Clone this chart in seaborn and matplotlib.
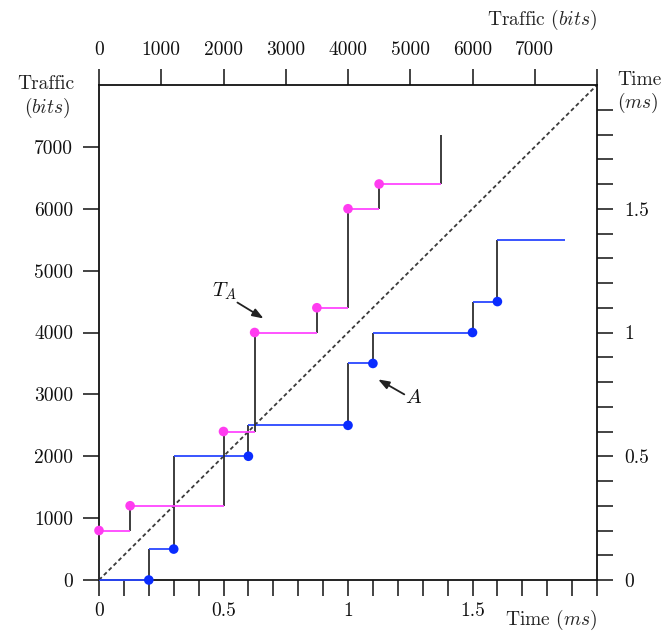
import matplotlib
matplotlib.use('Agg')
import matplotlib.pyplot as plt
from matplotlib.ticker import FixedLocator, FixedFormatter
import seaborn as sns
import pandas as pd
import numpy as np

# packet arrivals: time of arrival (ms) and cumulative traffic after it (bits)
arrival_ms = [0.2, 0.3, 0.6, 1.0, 1.1, 1.5, 1.6]
total_bits = [500, 2000, 2500, 3500, 4000, 4500, 5500]
a_end_ms = 1.87      # where the A curve stops
ta_end_ms = 1.8      # where the T_A curve stops
link_rate = 4000     # bits per ms (dashed diagonal)

time_major = [0, 0.5, 1.0, 1.5]
time_labels = ['0', '0.5', '1', '1.5']
time_minor_bottom = list(np.round(np.arange(0.1, 2.01, 0.1), 1))
time_minor_right = list(np.round(np.arange(0.1, 1.91, 0.1), 1))
bits_left = [0, 1000, 2000, 3000, 4000, 5000, 6000, 7000]
bits_left_labels = ['0', '1000', '2000', '3000', '4000', '5000', '6000', '7000']
bits_top = [0, 1000, 2000, 3000, 4000, 5000, 6000, 7000, 8000]
bits_top_labels = bits_left_labels + ['']

sns.set_theme(style='white')
plt.rcParams['font.family'] = ['cmr10', 'DejaVu Serif']
plt.rcParams['mathtext.fontset'] = 'cm'
plt.rcParams['axes.formatter.use_mathtext'] = True

blue = '#2a46ff'
blue_dot = '#0a2cff'
pink = '#ff45ff'
pink_dot = '#ff3cf0'
dark = '#2e2e2e'

prev_bits = [0] + total_bits[:-1]

# A: traffic (bits) against time (ms), bottom/left axes
a_flat = pd.DataFrame({'level': [0] + total_bits, 'start': [0] + arrival_ms,
                       'end': arrival_ms + [a_end_ms]})
a_jump = pd.DataFrame({'at': arrival_ms, 'low': prev_bits, 'high': total_bits})
a_dots = pd.DataFrame({'time': arrival_ms, 'bits': prev_bits})

# T_A: time (ms) against traffic (bits), top/right axes
ta_flat = pd.DataFrame({'level': arrival_ms, 'start': prev_bits, 'end': total_bits})
ta_jump = pd.DataFrame({'at': [0] + total_bits, 'low': [0] + arrival_ms,
                        'high': arrival_ms + [ta_end_ms]})
ta_dots = pd.DataFrame({'bits': prev_bits, 'time': arrival_ms})

fig = plt.figure(figsize=(6.63, 6.31), dpi=100)
box = [99 / 663, 1 - 580 / 631, 498 / 663, 495 / 631]
ax = fig.add_axes(box)
ax2 = fig.add_axes(box, frameon=False)
ax2.patch.set_alpha(0)

ax.set_xlim(0, 2)
ax.set_ylim(0, 8000)
ax2.set_xlim(0, 8000)
ax2.set_ylim(0, 2)

ax.axline((0, 0), slope=link_rate, color='#3a3a3a', lw=1.3, ls=(0, (2.2, 1.6)), zorder=2)

ax.vlines(a_jump['at'], a_jump['low'], a_jump['high'], color=dark, lw=1.3, zorder=3, clip_on=False)
ax.hlines(a_flat['level'], a_flat['start'], a_flat['end'], color=blue, lw=1.3, zorder=4, clip_on=False)
sns.scatterplot(data=a_dots, x='time', y='bits', ax=ax, color=blue_dot, s=48,
                edgecolor='none', zorder=5, clip_on=False)

ax2.vlines(ta_jump['at'], ta_jump['low'], ta_jump['high'], color=dark, lw=1.3, zorder=3, clip_on=False)
ax2.hlines(ta_flat['level'], ta_flat['start'], ta_flat['end'], color=pink, lw=1.3, zorder=4, clip_on=False)
sns.scatterplot(data=ta_dots, x='bits', y='time', ax=ax2, color=pink_dot, s=48,
                edgecolor='none', zorder=5, clip_on=False)

ax.set(xlabel='', ylabel='')
ax2.set(xlabel='', ylabel='')

for s in ax.spines.values():
    s.set_visible(True)
    s.set_color('#111111')
    s.set_linewidth(1.3)

# bottom / left axes
ax.xaxis.set_major_locator(FixedLocator(time_major))
ax.xaxis.set_major_formatter(FixedFormatter(time_labels))
ax.xaxis.set_minor_locator(FixedLocator(time_minor_bottom))
ax.yaxis.set_major_locator(FixedLocator(bits_left))
ax.yaxis.set_major_formatter(FixedFormatter(bits_left_labels))
ax.tick_params(which='both', direction='out', length=11.5, width=1.1, color='#111111',
               labelsize=14, labelcolor='#111111')
ax.tick_params(axis='x', which='both', bottom=True, top=False, pad=4.5)
ax.tick_params(axis='y', which='both', left=True, right=False, pad=7)

# top / right axes
ax2.xaxis.tick_top()
ax2.yaxis.tick_right()
ax2.xaxis.set_major_locator(FixedLocator(bits_top))
ax2.xaxis.set_major_formatter(FixedFormatter(bits_top_labels))
ax2.yaxis.set_major_locator(FixedLocator(time_major))
ax2.yaxis.set_major_formatter(FixedFormatter(time_labels))
ax2.yaxis.set_minor_locator(FixedLocator(time_minor_right))
ax2.tick_params(which='both', direction='out', length=11.5, width=1.1, color='#111111',
                labelsize=14, labelcolor='#111111')
ax2.tick_params(axis='x', which='both', top=True, bottom=False, pad=7)
ax2.tick_params(axis='y', which='both', right=True, left=False, pad=8)

# annotations: label text plus a separate pointer arrow
arrow_style = dict(arrowstyle='-|>,head_length=0.55,head_width=0.2', color='#222222',
                   lw=1.3, shrinkA=0, shrinkB=0)
ax.text(0.504, 4660, r'$T_A$', fontsize=15, ha='center', va='center', color='#111111')
ax.annotate('', xy=(0.661, 4226), xytext=(0.556, 4484), arrowprops=arrow_style)
ax.text(1.262, 2935, r'$A$', fontsize=15, ha='center', va='center', color='#111111')
ax.annotate('', xy=(1.121, 3242), xytext=(1.226, 3000), arrowprops=arrow_style)

# axis captions
fig.text(597 / 663, 1 - 20 / 631, r'Traffic $\mathit{(bits)}$', ha='right', va='center', fontsize=14)
fig.text(46 / 663, 1 - 84 / 631, 'Traffic', ha='center', va='center', fontsize=14)
fig.text(47 / 663, 1 - 108 / 631, r'$\mathit{(bits)}$', ha='center', va='center', fontsize=14)
fig.text(639 / 663, 1 - 80 / 631, 'Time', ha='center', va='center', fontsize=14)
fig.text(638 / 663, 1 - 103 / 631, r'$\mathit{(ms)}$', ha='center', va='center', fontsize=14)
fig.text(597 / 663, 1 - 620 / 631, r'Time $\mathit{(ms)}$', ha='right', va='center', fontsize=14)

fig.savefig('out.png', dpi=100)
